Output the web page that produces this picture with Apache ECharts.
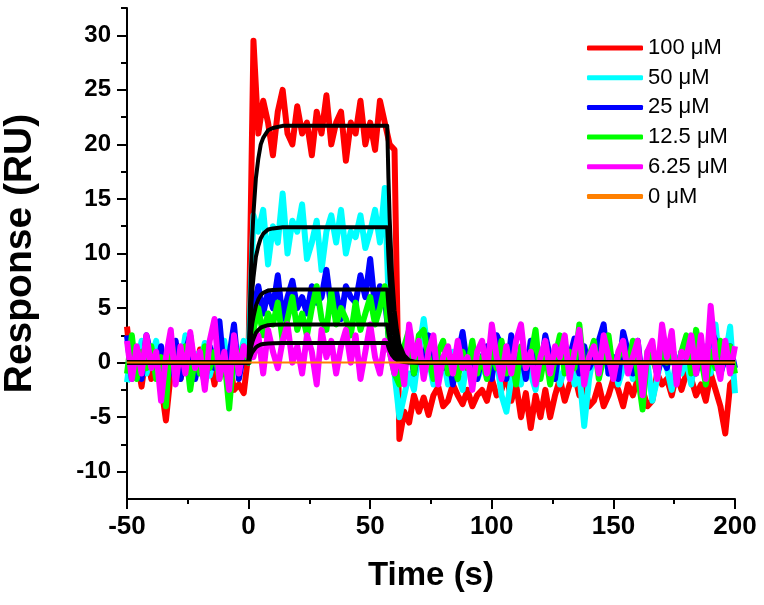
<!DOCTYPE html>
<html>
<head>
<meta charset="utf-8">
<script src="https://cdn.jsdelivr.net/npm/echarts@6/dist/echarts.min.js"></script>
<style>html,body{margin:0;padding:0;background:#fff}#c{width:764px;height:605px}</style>
</head>
<body>
<div id="c"></div>
<script>
// Time grid for the measured traces: -50 s to 200 s, one point every 2 s
const timeStart = -50;
const timeStep = 2;
const pointCount = 126;

const seriesNames = ['100 μM', '50 μM', '25 μM', '12.5 μM', '6.25 μM', '0 μM'];

const red100 = [
  3.3, -1, 0.5, -2.2, 1, -1.5, 0.8, -2, -5.3, -1, 1.5, -1.5, 0.5, -0.5, -1, 1.2, -0.8, 0.5, -2, 1, -1, 0.3, -2.5, -2, -2.8,
  1,
  29.5, 21, 24, 22, 19, 23, 25, 21, 20, 23.5, 21, 22, 19, 23, 21, 24.5, 20, 22, 23, 18.5, 22, 21, 24, 20, 22, 19.5, 24, 22,
  20, 19.5,
  -7, -4.5, -5.5, -3, -4.5, -3.2, -4.8, -3, -2.2, -4,
  -3.5, -2, -3, -3.8, -2.5, -4, -3, -2.5, -3.5, -1.5,
  -3, -2.5, -1, -3.5, -2, -5, -2.8, -6, -3, -5,
  -2.5, -5, -3, -1.5, -3.5, -2, -1, -3, -2, -4,
  -3.5, -2, -4, -3, -1.5, -2.5, -4, -2, -3, -1.5,
  -2.5, -4, -3.5, -1, -2, -1.5, -3, -1, -2.5, -1,
  -1.5, -3, -2, -3.5, -1, -2.5, -4, -6.5, -2, -1.5
];
const cyan50 = [
  -1.8, 1.5, -0.5, 2, -1, 0.5, 2, -1.5, -2, 1, 1.5, -0.5, 2.5, -1, 0.8, -0.3, 1.8, -1.2, 0.5, -0.8, 2, -1.5, 1, 0.3, 2,
  0.5,
  13.5, 12, 14, 9, 12.5, 11, 15.5, 10, 13, 12, 14.5, 9.5, 11, 13, 8.5, 12, 13.5, 11, 14, 10, 12, 11.5, 13.5, 10.5, 12, 14, 11, 16,
  3, -1,
  -5, -3, -1, -2.5, 1, 4, 0.5, -2, -1, 0.5,
  -2, 1, -1, -2.5, 0.5, 1.5, -1.5, -0.5, 1.2, -1,
  0.5, -3, -4.5, -1.5, 0.5, -2, 1, -1, -2.5, 0.5,
  1.8, -1, 0.5, -2, -0.5, 1, -2, -1, -5.8, -1.5,
  1, -0.5, 2, -1, 0.5, -2, -0.5, 1, -1.5, 0.5,
  -2, 0, -3.5, -1.5, 1, -0.5, -2.5, 0.5, -1, 0.3,
  -2, 1, -0.5, 1.5, -1, 3.5, -1, 0.5, 3.3, -2.8
];
const blue25 = [
  2.5, -1.5, 1, -1.5, 2.5, 0.5, -1, 1.5, -2, -0.5, 2, -1.5, 1, 2.5, -1.5, 0.5, -2, 1.5, -0.5, 3.8, -1, 0.5, 3.5, -1.5, 1,
  0,
  5, 7, 4.5, 6.5, 5, 8, 4, 6, 7.5, 5, 6, 4.5, 7, 5.5, 6, 8.5, 5, 6.5, 4, 7, 6, 5.5, 8, 6, 9.5, 5, 7, 6,
  1.5, -0.5,
  -1.5, 0.5, 2, -1, 1.5, 0, 2.5, -1, 0.5, -0.5,
  1, -2, 0.5, 2.8, -0.5, 1, -1.5, 0.5, 1.5, -1.5,
  2.5, 1.5, -1.5, 2.5, -0.5, 1, -1.5, 2, 0.5, -1,
  2.5, 0.5, -1.5, 2, -0.5, 0.5, 2.2, -1, 1.5, -0.5,
  0.5, 2, 3.5, -1, 0.5, -1.5, 2.8, 1, -1, 2,
  -2, 0.5, 1.5, -1, 0.5, -0.5, 2, -1.5, 1, 0.5,
  0.5, -1, 1.5, -0.5, 3, 2, -1, 0.5, 1.5, -0.5
];
const green12 = [
  -1, 2.5, -1.5, 1, -0.5, 1.5, -1.5, 0.5, -4, 2.5, -1, 0.5, 1.5, -2.5, 0.5, -1, 1.5, -0.5, 1, -1.5, 0.5, -4.2, 1, 0.5, 1.5,
  0,
  3, 5, 2.5, 4.5, 3.5, 5.5, 2, 4, 6, 3, 4.5, 2.5, 5, 7, 4, 3, 6.5, 3.5, 5, 4, 2.5, 5.5, 3, 4.5, 6, 3.5, 5, 7,
  1, -1,
  -2, 1.5, 3, -1, 2.5, 3, 0.5, -1.5, 1, 2,
  -1, 0.5, -1.5, 1, -0.5, 2, -1, 0.5, -1.5, 1,
  -0.5, 2, -1, 0.5, -2, 1.5, -0.5, 0.5, 3, -1.5,
  1, -2, 0.5, 2.5, -1, 1, -0.5, 3.5, -1, 0.5,
  2, -1.5, 0.5, 2.5, -1, 0.5, 1.5, -0.5, 2, -1,
  -4.3, 1, 0.5, -1, 1.5, 0, 2, -1.5, 1, 2.5,
  -1, 3, 0.5, -2, 1, -0.5, 2, 0.5, 1.5, -1
];
const magenta6 = [
  2, -1.5, 1.5, -1, 2.5, -0.5, 1, -3.5, 0.5, 3, -2, 1.5, -1, 2.8, -0.5, 1, -2.5, 2, 4, -1.5, 1, -2.5, 2.5, -1, 1.5,
  0.5,
  0.5, 2.5, -1, 3, 1, -0.5, 2, 3.5, 0, 1.5, -1, 2.5, 1, -2, 3, 0.5, 2, -1, 1.5, 3, 0, 2.5, -1.5, 1, 3.5, 0.5, -1, 2,
  1, -1,
  1, -2, 3.5, 0.5, 2, -1.5, 1, 2.5, -2, 0.5,
  1.5, -1, 2, -0.5, 0.5, -2.5, 1, 2, -1, 3.5,
  0.5, -1.5, 1.5, -1, 2, 3.5, -0.5, 1, -2, 0.5,
  2, -1, 1.5, 0.5, 2.5, -1.5, 1, 3, -2, 0.5,
  1.5, -1, 2.5, 0.5, -1.5, 1, 2, -1, 0.5, 2,
  -3, 1, 2, -1.5, 3.5, 0.5, 2.9, -2, 1, 0.5,
  2.5, -1, 2.5, -1.5, 5.2, 0.5, -1.5, 2, -1, 1.5
];
const zeroTimes = [-50, 200];
const zeroValues = [0, 0];

// Fitted curves (black)
const fitTimes = [-50, 0, 0.5, 1, 1.5, 2, 3, 4, 5, 6, 8, 10, 14, 57, 57.5, 58, 59, 60, 61, 62, 64, 66, 70, 200];
const fit100 = [0, 0, 4.8, 8.5, 11.5, 13.7, 16.9, 18.7, 20, 20.6, 21.3, 21.5, 21.7, 21.7, 16.9, 13.2, 8, 4.8, 3, 1.7, 0.65, 0.2, 0, 0];
const fit50 = [0, 0, 2.7, 4.8, 6.6, 7.8, 9.7, 10.7, 11.4, 11.8, 12.2, 12.3, 12.4, 12.4, 9.7, 7.6, 4.6, 2.7, 1.7, 1, 0.37, 0.12, 0, 0];
const fit25 = [0, 0, 1.5, 2.6, 3.6, 4.2, 5.2, 5.8, 6.2, 6.4, 6.6, 6.65, 6.7, 6.7, 5.2, 4.1, 2.5, 1.5, 0.94, 0.54, 0.2, 0.07, 0, 0];
const fit12 = [0, 0, 0.77, 1.37, 1.86, 2.2, 2.73, 3, 3.2, 3.3, 3.43, 3.47, 3.5, 3.5, 2.73, 2.14, 1.3, 0.77, 0.49, 0.28, 0.1, 0.04, 0, 0];
const fit6 = [0, 0, 0.4, 0.7, 0.95, 1.13, 1.4, 1.55, 1.66, 1.71, 1.76, 1.78, 1.8, 1.8, 1.4, 1.1, 0.67, 0.4, 0.25, 0.14, 0.05, 0.02, 0, 0];

// Axis ticks and labels
const xMajor = [-50, 0, 50, 100, 150, 200];
const xMinor = [-25, 25, 75, 125, 175];
const yMajor = [-10, -5, 0, 5, 10, 15, 20, 25, 30];
const yMinor = [-7.5, -2.5, 2.5, 7.5, 12.5, 17.5, 22.5, 27.5, 32.5];

const colors = ['#ff0000', '#00ffff', '#0000ff', '#00ff00', '#ff00ff', '#ff8000'];

const times = [];
for (let i = 0; i < pointCount; i++) times.push(timeStart + i * timeStep);
const pair = (xs, ys) => xs.map((x, i) => [x, ys[i]]);

const traces = [red100, cyan50, blue25, green12, magenta6];
const fits = [fit100, fit50, fit25, fit12, fit6];

const series = [];
traces.forEach((vals, k) => {
  series.push({
    name: seriesNames[k], type: 'line', data: pair(times, vals), symbol: 'none',
    xAxisIndex: 0, yAxisIndex: 0,
    lineStyle: { color: colors[k], width: 6, join: 'round' }, itemStyle: { color: colors[k] },
    z: 2 + k
  });
});
fits.forEach((vals) => {
  series.push({
    name: 'fit', type: 'line', data: pair(fitTimes, vals), symbol: 'none',
    xAxisIndex: 0, yAxisIndex: 0,
    lineStyle: { color: '#000', width: 4, join: 'round' }, itemStyle: { color: '#000' }, z: 10
  });
});
series.push({
  name: seriesNames[5], type: 'line', data: pair(zeroTimes, zeroValues), symbol: 'none',
  xAxisIndex: 0, yAxisIndex: 0,
  lineStyle: { color: colors[5], width: 2 }, itemStyle: { color: colors[5] }, z: 11
});

const axisFont = 'Arial, "Liberation Sans", sans-serif';
const lineCol = '#000';

const option = {
  animation: false,
  backgroundColor: '#fff',
  grid: { left: 127, right: 29, top: 8, bottom: 106, containLabel: false, outerBoundsMode: 'none' },
  legend: {
    data: seriesNames.map((n) => ({ name: n, icon: 'roundRect' })),
    orient: 'vertical', left: 587, top: 37,
    itemWidth: 56, itemHeight: 5, itemGap: 7.7,
    textStyle: { fontFamily: axisFont, fontSize: 22, color: '#000', lineHeight: 22, padding: [0, 0, 0, 0] },
    padding: 0, selectedMode: false
  },
  xAxis: [{
    type: 'value', min: -50, max: 200, interval: 25,
    name: 'Time (s)', nameLocation: 'middle', nameGap: 60,
    nameTextStyle: { fontFamily: axisFont, fontSize: 33, fontWeight: 'bold', color: '#000' },
    axisLine: { show: true, onZero: false, lineStyle: { color: lineCol, width: 2 } },
    axisTick: { show: true, length: 10, lineStyle: { color: lineCol, width: 2 }, customValues: xMajor },
    axisLabel: { customValues: xMajor, fontFamily: axisFont, fontSize: 26, fontWeight: 'bold', color: '#000', margin: 15 },
    splitLine: { show: false }
  }, {
    type: 'value', min: -50, max: 200, interval: 25, position: 'bottom', offset: 0,
    axisLine: { show: false, onZero: false },
    axisTick: { show: true, length: 5, lineStyle: { color: lineCol, width: 2 }, customValues: xMinor },
    axisLabel: { show: false }, splitLine: { show: false }
  }],
  yAxis: [{
    type: 'value', min: -12.5, max: 32.5, interval: 2.5,
    name: 'Response (RU)', nameLocation: 'middle', nameGap: 87, nameRotate: 90,
    nameTextStyle: { fontFamily: axisFont, fontSize: 39, fontWeight: 'bold', color: '#000' },
    axisLine: { show: true, onZero: false, lineStyle: { color: lineCol, width: 2 } },
    axisTick: { show: true, length: 10, lineStyle: { color: lineCol, width: 2 }, customValues: yMajor },
    axisLabel: { customValues: yMajor, fontFamily: axisFont, fontSize: 24, fontWeight: 'bold', color: '#000', margin: 16 },
    splitLine: { show: false }
  }, {
    type: 'value', min: -12.5, max: 32.5, interval: 2.5, position: 'left', offset: 0,
    axisLine: { show: false, onZero: false },
    axisTick: { show: true, length: 6, lineStyle: { color: lineCol, width: 2 }, customValues: yMinor },
    axisLabel: { show: false }, splitLine: { show: false }
  }],
  series: series
};

const chart = echarts.init(document.getElementById('c'), null, { renderer: 'canvas' });
chart.setOption(option);
</script>
</body>
</html>
